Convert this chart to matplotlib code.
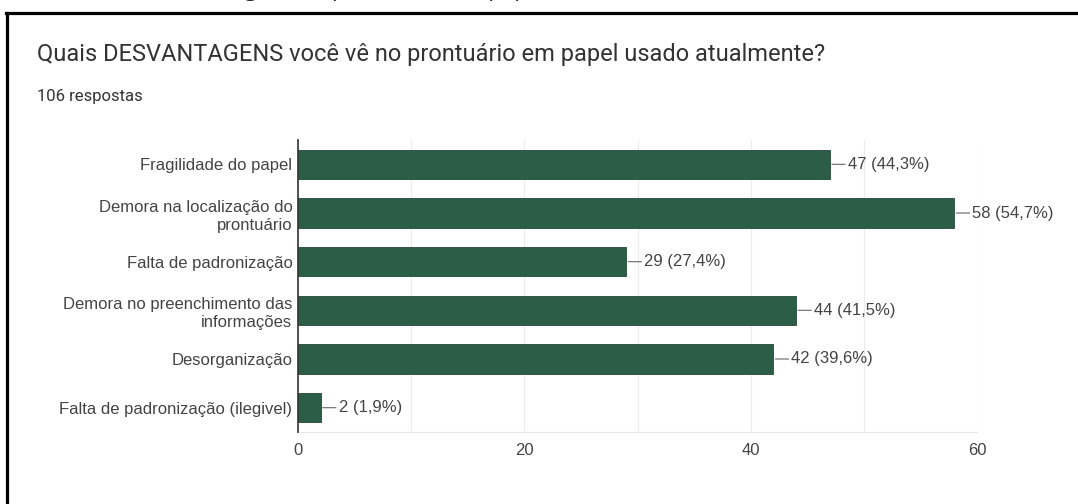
import matplotlib
matplotlib.use("Agg")
import matplotlib.pyplot as plt
from matplotlib.lines import Line2D

# --- data ---
categories = [
    "Fragilidade do papel",
    "Demora na localização do\nprontuário",
    "Falta de padronização",
    "Demora no preenchimento das\ninformações",
    "Desorganização",
    "Falta de padronização (ilegivel)",
]
counts = [47, 58, 29, 44, 42, 2]
total_responses = 106
x_ticks = [0, 20, 40, 60]

title = "Quais DESVANTAGENS você vê no prontuário em papel usado atualmente?"
subtitle = f"{total_responses} respostas"
caption = "Gráfico 4 – Desvantagens do prontuário em papel"

bar_color = "#2c5e47"
text_color = "#444444"

fig = plt.figure(figsize=(10.78, 5.04), dpi=100)
fig.patch.set_facecolor("white")

# --- outer frame (top + left edges only, the rest is cropped) ---
fig.add_artist(Line2D([6 / 1078, 1077 / 1078], [1 - 13 / 504, 1 - 13 / 504],
                      transform=fig.transFigure, color="black", lw=2.3))
fig.add_artist(Line2D([7 / 1078, 7 / 1078], [1 - 13 / 504, 0],
                      transform=fig.transFigure, color="black", lw=2.3))

# cut-off caption above the frame (only its bottom edge shows)
fig.text(0.03, 1.0 + 4 / 504, caption, fontsize=16, family="Open Sans",
         color="#222222", va="baseline", ha="left")

fig.text(37 / 1078, 1 - 55 / 504, title, fontsize=17, family="Roboto",
         color="#333333", va="center", ha="left")
fig.text(37 / 1078, 1 - 97 / 504, subtitle, fontsize=12, family="Roboto",
         color="#333333", va="center", ha="left")

# --- bars ---
ax = fig.add_axes([298 / 1078, 1 - 432 / 504, 679 / 1078, 292 / 504])
y_pos = list(range(len(categories)))
ax.barh(y_pos, counts, height=0.6, color=bar_color, edgecolor="#24483a",
        linewidth=0.6, zorder=3)

for i, v in enumerate(counts):
    pct = f"{v / total_responses * 100:.1f}".replace(".", ",")
    ax.annotate(f"{v} ({pct}%)", xy=(v, i), xytext=(13, 0),
                textcoords="offset points", ha="left", va="center",
                fontsize=12, family="Liberation Sans", color=text_color,
                annotation_clip=False,
                arrowprops=dict(arrowstyle="-", color="#777777", lw=0.9,
                                shrinkA=0, shrinkB=1.5, relpos=(0, 0.5)))

ax.set_ylim(len(categories) - 0.5, -0.5)
ax.set_xlim(0, 60)
ax.set_yticks(y_pos)
ax.set_yticklabels(categories, fontsize=12, family="Liberation Sans",
                   color=text_color, linespacing=1.3)
ax.set_xticks(x_ticks)
ax.set_xticklabels([str(t) for t in x_ticks], fontsize=12,
                   family="Liberation Sans", color=text_color)
ax.set_xticks(range(0, 61, 10), minor=True)
ax.tick_params(axis="both", which="both", length=0)
ax.tick_params(axis="y", pad=4)
ax.tick_params(axis="x", pad=8)
ax.grid(True, axis="x", which="both", color="#ececec", lw=0.8, zorder=0)

for side in ("top", "right"):
    ax.spines[side].set_visible(False)
ax.spines["bottom"].set_color("#e6e6e6")
ax.spines["left"].set_color("#333333")
ax.spines["left"].set_linewidth(1.2)
ax.spines["left"].set_zorder(4)

fig.savefig("out.png", dpi=100, facecolor="white")
